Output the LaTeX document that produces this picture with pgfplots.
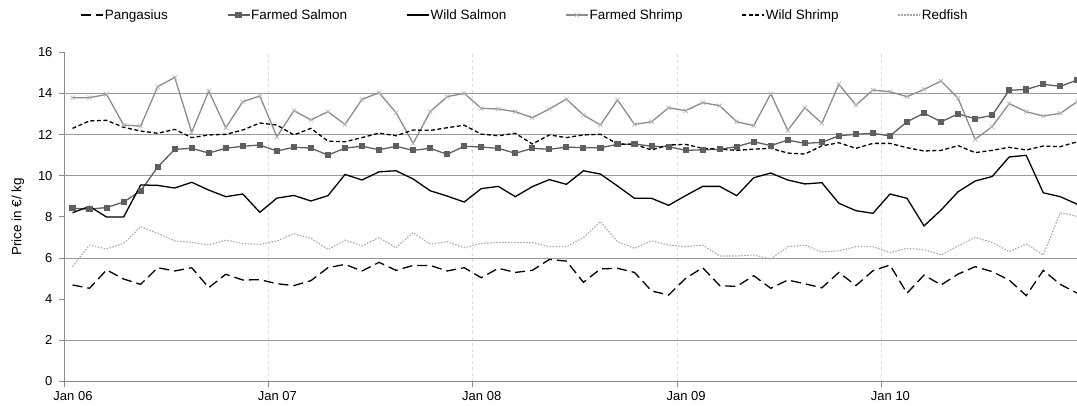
\documentclass[border=0pt]{standalone}
\usepackage{pgfplots}
\usepackage{pgfplotstable}
\pgfplotsset{compat=1.18}
\usepackage{fontspec}
\setmainfont{Liberation Sans}

\definecolor{fsalmon}{HTML}{5F5F5F}
\definecolor{fshrimp}{HTML}{8C8C8C}
\definecolor{fshrimpmk}{HTML}{B4B4B4}
\definecolor{redfish}{HTML}{A6A6A6}
\definecolor{axisgray}{HTML}{8A8A8A}
\definecolor{gridgray}{HTML}{9A9A9A}
\definecolor{vgrid}{HTML}{DCDCDC}

% monthly prices, x = month index (centre of month) from Jan 06
\pgfplotstableread{
x    pang fsal  wsal  fshr  wshr  red
0.5  4.69 8.41  8.20  13.79 12.30 5.58
1.5  4.53 8.38  8.51  13.79 12.66 6.63
2.5  5.42 8.45  7.99  13.95 12.69 6.44
3.5  4.98 8.72  7.99  12.46 12.35 6.71
4.5  4.72 9.26  9.55  12.41 12.17 7.52
5.5  5.53 10.42 9.53  14.32 12.06 7.20
6.5  5.37 11.28 9.40  14.78 12.25 6.83
7.5  5.53 11.33 9.68  12.11 11.85 6.76
8.5  4.56 11.10 9.30  14.11 11.98 6.63
9.5  5.21 11.33 8.98  12.33 12.01 6.87
10.5 4.93 11.43 9.11  13.60 12.22 6.70
11.5 4.95 11.49 8.22  13.87 12.56 6.66
12.5 4.75 11.20 8.91  11.89 12.46 6.83
13.5 4.66 11.38 9.04  13.16 11.98 7.18
14.5 4.90 11.34 8.77  12.71 12.30 6.96
15.5 5.53 11.00 9.03  13.11 11.68 6.41
16.5 5.69 11.34 10.06 12.49 11.65 6.87
17.5 5.37 11.43 9.79  13.71 11.85 6.60
18.5 5.79 11.26 10.19 14.03 12.07 6.99
19.5 5.40 11.43 10.24 13.06 11.94 6.50
20.5 5.64 11.23 9.84  11.57 12.22 7.23
21.5 5.64 11.33 9.27  13.11 12.20 6.68
22.5 5.37 11.04 9.01  13.84 12.33 6.79
23.5 5.53 11.43 8.72  14.00 12.45 6.50
24.5 5.04 11.39 9.37  13.27 12.02 6.71
25.5 5.50 11.33 9.48  13.24 11.94 6.76
26.5 5.30 11.09 8.98  13.11 12.06 6.76
27.5 5.40 11.33 9.47  12.82 11.54 6.75
28.5 5.93 11.28 9.81  13.24 11.98 6.55
29.5 5.85 11.39 9.58  13.72 11.85 6.55
30.5 4.82 11.36 10.24 12.95 11.98 6.99
31.5 5.47 11.36 10.08 12.46 12.01 7.77
32.5 5.50 11.52 9.50  13.68 11.54 6.79
33.5 5.30 11.54 8.90  12.49 11.52 6.47
34.5 4.40 11.43 8.90  12.62 11.25 6.83
35.5 4.20 11.41 8.56  13.30 11.49 6.63
36.5 5.01 11.23 9.03  13.16 11.52 6.55
37.5 5.53 11.26 9.48  13.55 11.33 6.63
38.5 4.66 11.28 9.48  13.40 11.29 6.10
39.5 4.62 11.41 9.03  12.62 11.23 6.10
40.5 5.14 11.65 9.90  12.43 11.29 6.15
41.5 4.53 11.46 10.13 13.98 11.33 5.95
42.5 4.93 11.73 9.79  12.20 11.10 6.55
43.5 4.75 11.57 9.60  13.30 11.05 6.63
44.5 4.55 11.62 9.66  12.55 11.45 6.29
45.5 5.30 11.94 8.66  14.44 11.60 6.35
46.5 4.66 12.01 8.30  13.43 11.33 6.55
47.5 5.38 12.06 8.17  14.16 11.57 6.55
48.5 5.66 11.93 9.11  14.08 11.57 6.26
49.5 4.29 12.62 8.90  13.84 11.36 6.47
50.5 5.17 13.04 7.56  14.19 11.20 6.41
51.5 4.69 12.62 8.33  14.60 11.23 6.15
52.5 5.22 13.00 9.22  13.76 11.46 6.59
53.5 5.58 12.77 9.74  11.77 11.12 7.01
54.5 5.34 12.93 9.96  12.38 11.23 6.76
55.5 4.93 14.15 10.91 13.50 11.38 6.31
56.5 4.17 14.19 10.99 13.11 11.25 6.68
57.5 5.40 14.44 9.17  12.90 11.44 6.15
58.5 4.72 14.34 8.98  13.03 11.41 8.20
59.5 4.29 14.65 8.61  13.60 11.65 8.02
}\prices

\begin{document}
\begin{tikzpicture}
\path[use as bounding box] (0,0) rectangle (1077pt,405pt);
\begin{axis}[
  at={(64pt,23.5pt)}, anchor=south west,
  scale only axis, width=1013.3pt, height=329.3pt,
  xmin=0, xmax=59.5, ymin=0, ymax=16,
  axis lines=left, axis line style={axisgray, line width=0.8pt, -},
  xtick={0,12,24,36,48},
  xticklabels={Jan 06,Jan 07,Jan 08,Jan 09,Jan 10},
  xticklabel style={xshift=9pt, yshift=-1pt},
  xmajorgrids, x grid style={vgrid, dashed, line width=0.7pt},
  ytick={0,2,...,16},
  extra y ticks={2,6,10,12,14}, extra y tick labels={},
  extra y tick style={ymajorgrids, y grid style={gridgray, line width=0.8pt}, major tick length=0pt},
  tick style={axisgray, line width=0.8pt},
  major tick length=5pt, tick align=outside,
  xtick pos=bottom, ytick pos=left,
  /pgf/number format/assume math mode=true,
  ticklabel style={font=\fontsize{13}{15}\selectfont},
  yticklabel style={xshift=-3pt},
  ylabel={Price in €/ kg},
  ylabel style={font=\fontsize{13.5}{16}\selectfont},
  every axis y label/.append style={at={(-46pt,164.6pt)}, anchor=center},
  legend columns=6,
  legend style={draw=none, fill=none, at={(0.4545,1.113)}, anchor=center,
    font=\fontsize{13.5}{15}\selectfont,
    /tikz/every odd column/.append style={column sep=0pt},
    /tikz/every even column/.append style={column sep=58pt},
    nodes={inner sep=1pt}},
  legend image code/.code={\draw[mark repeat=2, mark phase=2, #1] plot coordinates {(0pt,0pt) (11pt,0pt) (22pt,0pt)};},
  clip=false,
]
\addplot[black, line width=1.3pt, dash pattern=on 10pt off 5pt] table[x=x, y=pang] {\prices};
\addlegendentry{Pangasius}
\addplot[fsalmon, line width=1.3pt, mark=square*, mark size=2.4pt, mark options={solid, fsalmon}] table[x=x, y=fsal] {\prices};
\addlegendentry{Farmed Salmon}
\addplot[black, line width=1.3pt] table[x=x, y=wsal] {\prices};
\addlegendentry{Wild Salmon}
\addplot[fshrimp, line width=1.3pt, mark=x, mark size=3pt, mark options={fshrimpmk, line width=0.7pt}] table[x=x, y=fshr] {\prices};
\addlegendentry{Farmed Shrimp}
\addplot[black, line width=1.3pt, dash pattern=on 4pt off 2.5pt] table[x=x, y=wshr] {\prices};
\addlegendentry{Wild Shrimp}
\addplot[redfish, line width=1.1pt, dash pattern=on 1.5pt off 1.5pt] table[x=x, y=red] {\prices};
\addlegendentry{Redfish}
\end{axis}
\end{tikzpicture}
\end{document}
